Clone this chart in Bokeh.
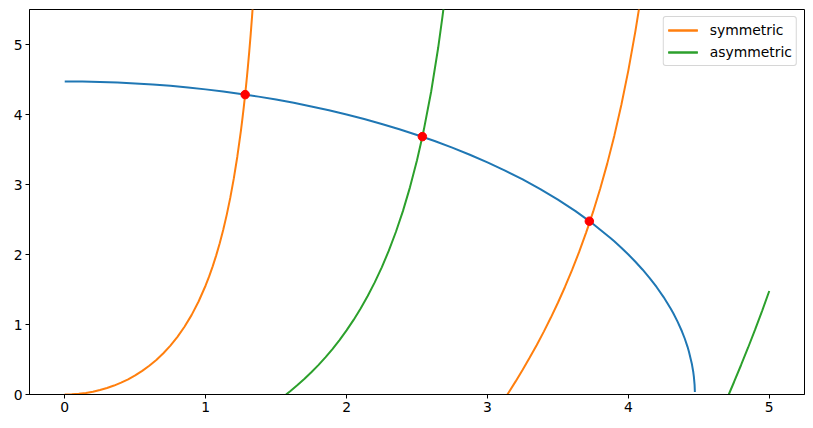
from bokeh.plotting import figure
from bokeh.models import Legend, FixedTicker
from bokeh.embed import file_html
from bokeh.resources import INLINE

# circle of radius sqrt(20)
circle_x = [0.0, 0.125, 0.25, 0.375, 0.5, 0.625, 0.75, 0.875, 1.0, 1.125, 1.25, 1.375, 1.5, 1.625,
            1.75, 1.875, 2.0, 2.125, 2.25, 2.375, 2.5, 2.625, 2.75, 2.875, 3.0, 3.125, 3.25, 3.375,
            3.5, 3.625, 3.75, 3.875, 3.9, 3.95, 4.0, 4.05, 4.1, 4.15, 4.2, 4.25, 4.3, 4.32, 4.35,
            4.38, 4.4, 4.42, 4.43, 4.45, 4.46, 4.465, 4.47, 4.472]
circle_y = [4.472, 4.4704, 4.465, 4.4564, 4.444, 4.4283, 4.409, 4.3857, 4.3589, 4.3283, 4.2939,
            4.2555, 4.2131, 4.1665, 4.1155, 4.0601, 4.0, 3.935, 3.8649, 3.7894, 3.7081, 3.6207,
            3.5267, 3.4256, 3.3166, 3.1991, 3.0721, 2.9342, 2.7839, 2.619, 2.4367, 2.2326, 2.1886,
            2.097, 2.0, 1.8967, 1.786, 1.6666, 1.536, 1.3919, 1.229, 1.1566, 1.038, 0.9031, 0.8,
            0.6809, 0.612, 0.444, 0.329, 0.2525, 0.138, 0.035]

# symmetric branch 1
sym1_x = [0.0, 0.05, 0.1, 0.15, 0.2, 0.25, 0.3, 0.35, 0.4, 0.45, 0.5, 0.55, 0.6, 0.65, 0.7, 0.75,
          0.8, 0.85, 0.9, 0.95, 1.0, 1.025, 1.05, 1.075, 1.1, 1.125, 1.15, 1.175, 1.2, 1.225, 1.25,
          1.26, 1.27, 1.28, 1.29, 1.3, 1.31, 1.32, 1.33, 1.34]
sym1_y = [0.0, 0.0025, 0.01003, 0.02267, 0.0405, 0.06384, 0.0928, 0.12776, 0.1691, 0.21738,
          0.2732, 0.33743, 0.4105, 0.49413, 0.5896, 0.6987, 0.8237, 0.96758, 1.1341, 1.32846,
          1.5574, 1.6875, 1.8305, 1.9876, 2.1613, 2.3541, 2.5697, 2.8121, 3.0866, 3.4002, 3.762,
          3.9232, 4.094, 4.277, 4.4726, 4.683, 4.909, 5.152, 5.416, 5.702]

# symmetric branch 2
sym2_x = [3.1416, 3.2, 3.25, 3.3, 3.35, 3.4, 3.45, 3.5, 3.55, 3.6, 3.65, 3.7, 3.73, 3.75, 3.8, 3.85,
          3.9, 3.95, 4.0, 4.05, 4.08, 4.1]
sym2_y = [0.0, 0.1871, 0.3537, 0.5271, 0.7084, 0.8986, 1.099, 1.3111, 1.5361, 1.7765, 2.0339, 2.3128,
          2.4884, 2.6118, 2.9392, 3.2982, 3.6945, 4.1355, 4.6306, 5.1918, 5.5657, 5.8353]

# asymmetric branch 1
asym1_x = [1.5708, 1.6, 1.65, 1.7, 1.75, 1.8, 1.85, 1.9, 1.95, 2.0, 2.05, 2.1, 2.15, 2.2, 2.25, 2.3,
           2.35, 2.4, 2.45, 2.5, 2.54, 2.55, 2.6, 2.65, 2.68, 2.69, 2.7]
asym1_y = [0.0, 0.0467, 0.131, 0.2209, 0.317, 0.4199, 0.5304, 0.649, 0.7771, 0.9153, 1.0656, 1.2282,
           1.4065, 1.6014, 1.8169, 2.055, 2.3214, 2.6201, 2.9593, 3.3466, 3.7, 3.799, 4.3217, 4.9497,
           5.388, 5.546, 5.712]

# asymmetric branch 2
asym2_x = [4.7124, 4.75, 4.8, 4.85, 4.9, 4.95, 5.0]
asym2_y = [0.0, 0.1787, 0.4215, 0.6716, 0.9303, 1.1988, 1.479]

# intersections
sol_x = [1.2805, 2.538, 3.723]
sol_y = [4.284, 3.684, 2.476]

x_ticks = [0, 1, 2, 3, 4, 5]
y_ticks = [0, 1, 2, 3, 4, 5]

FONT = "DejaVu Sans"
FS = "13.9px"

p = figure(width=813, height=428, output_backend="svg", toolbar_location=None,
           x_range=(-0.25, 5.25), y_range=(0, 5.5),
           min_border_left=29, min_border_right=9, min_border_top=9, min_border_bottom=34)
p.background_fill_color = "white"
p.border_fill_color = "white"
p.outline_line_color = "black"
p.outline_line_width = 1
p.xgrid.visible = False
p.ygrid.visible = False

for ax, tks in ((p.xaxis[0], x_ticks), (p.yaxis[0], y_ticks)):
    ax.ticker = FixedTicker(ticks=tks)
    ax.major_tick_out = 4
    ax.major_tick_in = 0
    ax.minor_tick_out = 0
    ax.minor_tick_in = 0
    ax.major_label_standoff = 3
    ax.major_label_text_font = FONT
    ax.major_label_text_font_size = FS
    ax.major_label_text_color = "black"
    ax.axis_line_color = "black"
    ax.major_tick_line_color = "black"

r0 = p.line(circle_x, circle_y, line_color="#1f77b4", line_width=2)
r1 = p.line(sym1_x, sym1_y, line_color="#ff7f0e", line_width=2)
r2 = p.line(sym2_x, sym2_y, line_color="#ff7f0e", line_width=2)
r3 = p.line(asym1_x, asym1_y, line_color="#2ca02c", line_width=2)
r4 = p.line(asym2_x, asym2_y, line_color="#2ca02c", line_width=2)
p.scatter(sol_x, sol_y, size=8.5, fill_color="#ff0000", line_color="#ff0000")

legend = Legend(items=[("symmetric", [r1, r2]), ("asymmetric", [r3, r4])],
                location="top_right")
legend.margin = 7
legend.padding = 4
legend.spacing = 4
legend.glyph_width = 30
legend.glyph_height = 18
legend.label_height = 18
legend.label_standoff = 12
legend.label_text_font = FONT
legend.label_text_font_size = FS
legend.label_text_color = "black"
legend.border_line_color = "#cccccc"
legend.border_line_alpha = 0.8
legend.border_radius = 3
legend.background_fill_alpha = 0.8
p.add_layout(legend, "center")

open("out.html", "w").write(file_html(p, INLINE))
